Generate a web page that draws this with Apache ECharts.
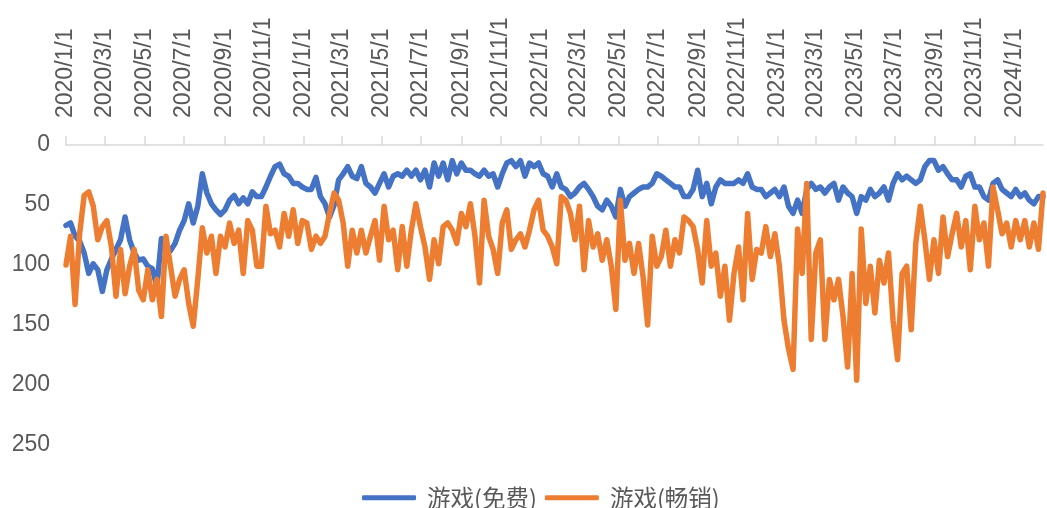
<!DOCTYPE html>
<html>
<head>
<meta charset="utf-8">
<script src="https://cdn.jsdelivr.net/npm/echarts@6/dist/echarts.min.js"></script>
<style>
  html, body { margin: 0; padding: 0; background: #ffffff; }
  #chart { width: 1047px; height: 508px; }
</style>
</head>
<body>
<div id="chart"></div>
<script>
// Weekly ranking readings (lower number = better rank), one value per week from 2020/1/1
const seriesNames = ['游戏(免费)', '游戏(畅销)'];

const freeRank = [
  67,65,76,80,90,107,99,104,122,104,95,87,79,60,79,90,96,95,101,103,118,78,85,88,82,71,63,49,65,51,24,40,49,54,58,54,46,42,49,44,49,39,43,
  43,35,26,18,16,24,26,32,32,35,37,37,27,43,49,60,50,29,24,18,26,28,18,32,35,40,32,24,35,26,24,26,21,26,21,29,21,35,15,26,15,29,13,24,15,21,21,24,26,21,26,24,35,24,15,
  13,18,13,26,15,18,15,24,26,35,24,35,37,43,40,35,32,37,43,51,54,46,51,60,37,51,43,40,37,35,35,32,24,26,29,32,35,35,43,43,37,21,43,32,49,35,29,32,32,32,29,32,24,35,37,
  37,43,40,37,43,35,51,57,46,57,37,32,37,35,40,35,32,46,35,40,43,57,43,46,37,43,40,35,46,32,24,29,26,29,32,29,18,13,13,21,18,24,29,29,35,26,24,35,35,43,46,32,29,37,40,43,37,43,40,46,49,43,43
];

const grossingRank = [
  100,76,133,74,42,39,51,79,68,63,85,126,87,124,101,87,121,129,104,129,112,143,76,101,126,112,104,132,151,112,69,90,76,107,76,85,65,82,71,107,63,71,101,
  101,51,74,71,85,57,76,54,82,63,65,87,76,82,76,57,40,46,65,101,71,90,71,90,76,63,96,51,79,71,104,68,101,71,49,68,85,112,79,99,68,65,71,82,57,68,49,76,115,46,76,87,107,65,54,
  87,79,74,85,71,54,46,71,76,85,99,43,46,57,79,51,104,63,85,74,96,79,101,137,46,96,82,107,82,110,150,76,101,93,71,101,79,90,60,63,68,87,115,63,101,90,126,101,146,107,85,129,57,112,87,
  90,68,93,74,101,146,170,187,70,107,32,162,90,79,162,112,129,112,143,185,107,196,70,132,101,140,96,115,90,146,179,107,101,154,82,51,79,112,79,107,60,93,74,57,85,63,104,51,79,65,101,35,54,74,65,85,63,79,63,85,65,87,40
];

const yTicks = { min: 0, max: 250, step: 50 };

// Daily date categories for the x axis
const DAY = 86400000;
const startUTC = Date.UTC(2020, 0, 1);
function fmt(t) {
  const d = new Date(t);
  return d.getUTCFullYear() + '/' + (d.getUTCMonth() + 1) + '/' + d.getUTCDate();
}
const dayCount = (freeRank.length - 1) * 7 + 1;
const categories = [];
for (let i = 0; i < dayCount; i++) categories.push(fmt(startUTC + i * DAY));

// One sample per week
const sampleDates = freeRank.map((_, k) => categories[k * 7]);

// Labels and ticks on the first day of every odd month
function isMarked(index, value) {
  const p = value.split('/');
  return p[2] === '1' && (parseInt(p[1], 10) % 2 === 1);
}

const textColor = '#595959';
const fontFamily = '"Liberation Sans", Arial, sans-serif';

const chart = echarts.init(document.getElementById('chart'), null, { renderer: 'canvas' });
chart.setOption({
  animation: false,
  backgroundColor: '#ffffff',
  grid: { left: 66, right: 4, top: 145, bottom: 63, containLabel: false },
  legend: {
    data: seriesNames,
    top: 481,
    left: 357,
    icon: 'roundRect',
    itemWidth: 54,
    itemHeight: 5,
    itemGap: 8,
    textStyle: { color: textColor, fontSize: 23.5, fontFamily: '"Noto Sans CJK SC", sans-serif', padding: [0, 0, 0, 6] }
  },
  xAxis: {
    type: 'category',
    position: 'top',
    boundaryGap: false,
    data: categories,
    axisLine: { show: true, lineStyle: { color: '#d9d9d9', width: 1.5 } },
    axisTick: { show: true, length: 9, interval: isMarked, lineStyle: { color: '#d9d9d9', width: 1.5 } },
    axisLabel: {
      interval: isMarked,
      rotate: 90,
      margin: 27,
      color: textColor,
      fontSize: 23,
      fontFamily: fontFamily
    },
    splitLine: { show: false }
  },
  yAxis: {
    type: 'value',
    inverse: true,
    min: yTicks.min,
    max: yTicks.max,
    interval: yTicks.step,
    axisLine: { show: false },
    axisTick: { show: false },
    splitLine: { show: false },
    axisLabel: { color: textColor, fontSize: 23, fontFamily: fontFamily, margin: 16 }
  },
  series: [
    {
      name: seriesNames[0],
      type: 'line',
      data: sampleDates.map((d, k) => [d, freeRank[k]]),
      symbol: 'none',
      lineStyle: { color: '#4472C4', width: 5.5, join: 'round', cap: 'round' },
      itemStyle: { color: '#4472C4' }
    },
    {
      name: seriesNames[1],
      type: 'line',
      data: sampleDates.map((d, k) => [d, grossingRank[k]]),
      symbol: 'none',
      lineStyle: { color: '#ED7D31', width: 5.5, join: 'round', cap: 'round' },
      itemStyle: { color: '#ED7D31' }
    }
  ]
});
</script>
</body>
</html>
